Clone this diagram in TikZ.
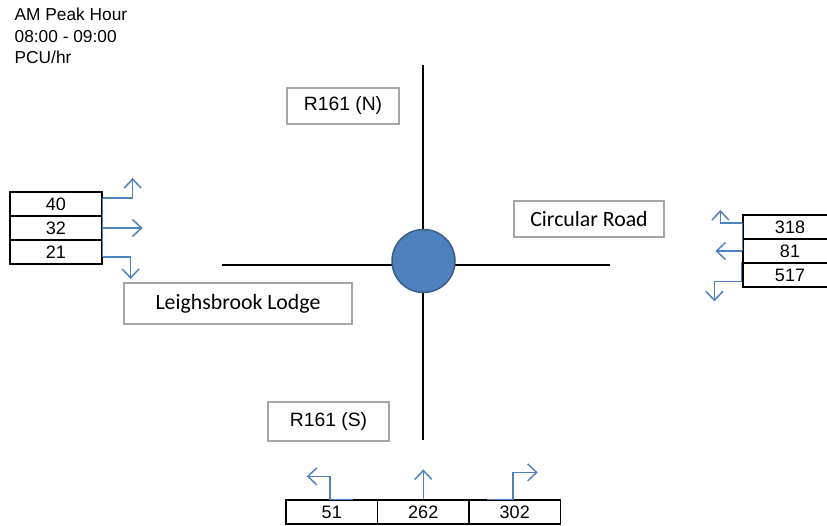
\documentclass[tikz,border=0pt]{standalone}
\usepackage{fontspec}
\setmainfont{Liberation Sans}
\newfontfamily\calib{Carlito}
\usetikzlibrary{arrows.meta,calc}
\definecolor{flowblue}{RGB}{79,129,189}
\definecolor{rbfill}{RGB}{79,129,189}
\definecolor{rbdraw}{RGB}{56,93,138}
\definecolor{boxgray}{RGB}{166,166,166}
\tikzset{
  cell/.style={draw=black, line width=1.2pt, inner sep=0pt, minimum height=24pt, font=\fontsize{18}{20}\selectfont},
  lbox/.style={draw=boxgray, line width=1.2pt, inner sep=0pt},
  road/.style={draw=black, line width=1.8pt},
  flow/.style={draw=flowblue, line width=1.5pt},
  flowarr/.style={flow, -{Straight Barb[length=9pt,width=17pt,line width=1.5pt]}},
  note/.style={anchor=base west, inner sep=0pt, font=\fontsize{17.3}{20}\selectfont}
}
\begin{document}
\begin{tikzpicture}[x=1pt,y=-1pt]
\useasboundingbox (0,0) rectangle (827,526);
\clip (0,0) rectangle (827,526);
% heading
\node[note] (t1) at (14.5,21) {AM Peak Hour};
\node[note] (t2) at (14.5,43) {08:00 - 09:00};
\node[note] (t3) at (14.5,64) {PCU/hr};
% roads
\coordinate (nN) at (423,65);
\coordinate (nS) at (423,440);
\coordinate (nW) at (222,265);
\coordinate (nE) at (610,265);
\draw[road] (nN) -- (nS);
\draw[road] (nW) -- (nE);
\node[circle, fill=rbfill, draw=rbdraw, line width=1.5pt, minimum size=63pt, inner sep=0pt] (rb) at (423.5,261) {};
% labels
\node[lbox, minimum width=112pt, minimum height=36pt, font=\fontsize{19.3}{20}\selectfont] (lN) at (343,106) {R161 (N)};
\node[lbox, minimum width=121pt, minimum height=39pt, font=\fontsize{19.3}{20}\selectfont] (lS) at (328.5,421.5) {R161 (S)};
\node[lbox, minimum width=150pt, minimum height=36pt, font=\calib\fontsize{21.8}{24}\selectfont] (lE) at (589,219) {Circular Road};
\node[lbox, minimum width=228pt, minimum height=41pt, font=\calib\fontsize{21.8}{24}\selectfont] (lW) at (238,303.5) {Leighsbrook Lodge};
% left table
\node[cell, minimum width=92pt] (w1) at (56,204) {40};
\node[cell, minimum width=92pt] (w2) at (56,228) {32};
\node[cell, minimum width=92pt] (w3) at (56,252) {21};
% right table
\node[cell, minimum width=94pt] (e1) at (790,227) {318};
\node[cell, minimum width=94pt] (e2) at (790,251) {81};
\node[cell, minimum width=94pt] (e3) at (790,275) {517};
% bottom table
\node[cell, minimum width=91.5pt] (s1) at (331.75,512) {51};
\node[cell, minimum width=91.5pt] (s2) at (423.25,512) {262};
\node[cell, minimum width=91.5pt] (s3) at (514.75,512) {302};
% left flows
\coordinate (wa) at ($(w1.east)+(0,-6)$);
\coordinate (wb) at ($(w3.east)+(0,5)$);
\draw[flow] (wa) -- (wb);
\draw[flowarr] (wa) -- ++(30,0) -- ++(0,-20);
\draw[flowarr] (w2.east) -- ++(40,0);
\draw[flowarr] (wb) -- ++(28,0) -- ++(0,22);
% right flows
\coordinate (ea) at ($(e1.west)+(0,-4)$);
\draw[flow] (ea) -- (e2.west);
\draw[flowarr] (ea) -- ++(-22,0) -- ++(0,-13);
\draw[flowarr] (e2.west) -- ++(-27,0);
\draw[flowarr] ($(e3.north west)+(-1,0)$) -- ++(0,19) -- ++(-27,0) -- ++(0,20);
% bottom flows
\draw[flowarr] ($(s1.north)+(21,0)$) -- ++(-23,0) -- ++(0,-23) -- ++(-23,0);
\draw[flowarr] (s2.north) -- ++(0,-30);
\draw[flowarr] ($(s3.north)+(-28,0)$) -- ++(26,0) -- ++(0,-27) -- ++(25,0);
\end{tikzpicture}
\end{document}
